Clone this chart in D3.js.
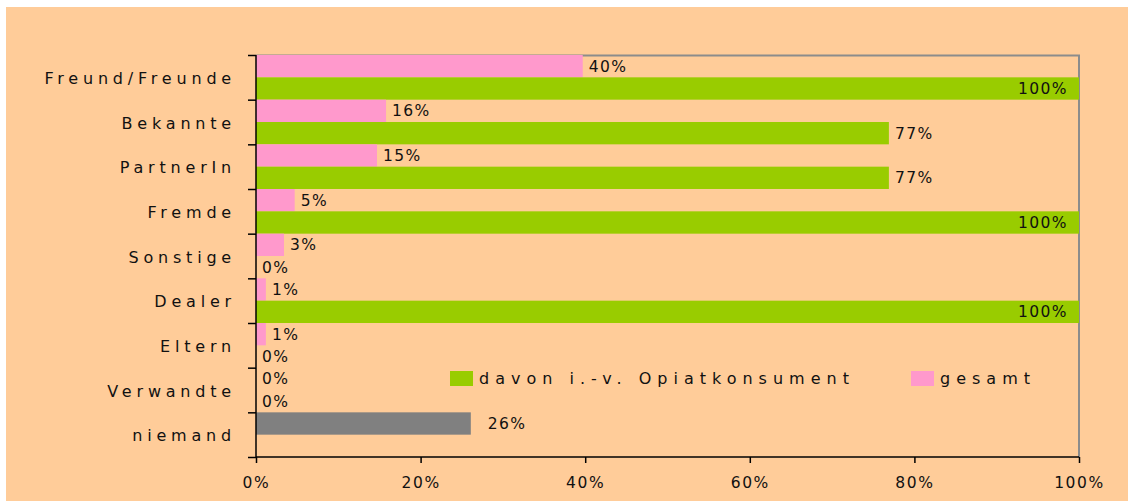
<!DOCTYPE html>
<html>
<head>
<meta charset="utf-8">
<script src="https://cdn.jsdelivr.net/npm/d3@7"></script>
<style>
  body { margin: 0; background: #ffffff; }
  svg text { font-family: "DejaVu Sans", Verdana, sans-serif; fill: #111111; }
</style>
</head>
<body>
<svg id="svg-main"></svg>
<script>
const CATEGORIES = ["Freund/Freunde", "Bekannte", "PartnerIn", "Fremde", "Sonstige", "Dealer", "Eltern", "Verwandte", "niemand"];
// "gesamt" share per category in % (niemand is drawn grey)
const GESAMT = [39.7, 15.8, 14.7, 4.7, 3.4, 1.2, 1.2, 0, 26.1];
// "davon i.-v. Opiatkonsument" share per category in % (null = no bar)
const OPIAT = [100, 76.9, 76.9, 100, 0, 100, 0, 0, null];
const X_TICKS = [0, 20, 40, 60, 80, 100];
const LEGEND_LABELS = ["davon i.-v. Opiatkonsument", "gesamt"];

const COLORS = {
    Background: "#ffcc99",
    Gesamt: "#ff99cc",
    Opiat: "#99cc00",
    Niemand: "#808080",
    Frame: "#8c8c8c"
};

var Dims = {
    MainSvg: { Width: 1128, Height: 502 },
    Margin: { Top: 55, Bottom: 45, Left: 256, Right: 49 },
    Chart: { Width: -1, Height: -1 }
};
Dims.Chart.Width = Dims.MainSvg.Width - Dims.Margin.Left - Dims.Margin.Right;
Dims.Chart.Height = Dims.MainSvg.Height - Dims.Margin.Top - Dims.Margin.Bottom;

var pct = d3.format(".0f");

var svg = d3.select("svg#svg-main")
    .attr("width", Dims.MainSvg.Width)
    .attr("height", Dims.MainSvg.Height);

// peach panel
svg.append("rect")
    .attr("x", 6).attr("y", 7)
    .attr("width", Dims.MainSvg.Width - 6)
    .attr("height", Dims.MainSvg.Height - 8)
    .attr("fill", COLORS.Background);

var chart = svg.append("g")
    .attr("transform", `translate(${Dims.Margin.Left},${Dims.Margin.Top})`);

var x = d3.scaleLinear().domain([0, 100]).range([0, Dims.Chart.Width]);
var y = d3.scaleBand().domain(CATEGORIES).range([0, Dims.Chart.Height]).padding(0);
var ySub = d3.scaleBand().domain(["gesamt", "opiat"]).range([0, y.bandwidth()]).padding(0);

// frame: top and right in grey
chart.append("path")
    .attr("d", `M0,0.5H${Dims.Chart.Width}V${Dims.Chart.Height}`)
    .attr("fill", "none")
    .attr("stroke", COLORS.Frame)
    .attr("stroke-width", 2);

var rows = CATEGORIES.map(function (c, i) {
    return [
        { cat: c, key: "gesamt", value: GESAMT[i] },
        { cat: c, key: "opiat", value: OPIAT[i] }
    ];
}).flat().filter(d => d.value !== null);

function barColor(d) {
    if (d.key === "opiat") return COLORS.Opiat;
    return d.cat === "niemand" ? COLORS.Niemand : COLORS.Gesamt;
}

chart.selectAll("rect.bar")
    .data(rows)
    .enter()
    .append("rect")
    .attr("class", "bar")
    .attr("x", x(0))
    .attr("y", d => y(d.cat) + ySub(d.key))
    .attr("width", d => x(d.value) - x(0))
    .attr("height", ySub.bandwidth())
    .attr("fill", barColor);

// value labels
chart.selectAll("text.val")
    .data(rows)
    .enter()
    .append("text")
    .attr("class", "val")
    .style("font-size", "15.5px")
    .style("letter-spacing", "1.4px")
    .attr("text-anchor", d => d.value >= 100 ? "end" : "start")
    .attr("x", function (d) {
        if (d.value >= 100) return x(d.value) - 11;
        return x(d.value) + (d.cat === "niemand" ? 17 : 6);
    })
    .attr("y", d => y(d.cat) + ySub(d.key) + ySub.bandwidth() / 2 + 5.5)
    .text(d => pct(d.value) + "%");

// y axis with ticks on band boundaries
var yTicks = d3.scaleLinear().domain([0, CATEGORIES.length]).range([0, Dims.Chart.Height]);
chart.append("g")
    .attr("class", "y-axis")
    .call(d3.axisLeft(yTicks).ticks(CATEGORIES.length).tickSize(8).tickFormat(""))
    .call(g => g.select(".domain").attr("stroke", "#000").attr("stroke-width", 1.5).attr("d", `M0,0V${Dims.Chart.Height}`))
    .call(g => g.selectAll(".tick line").attr("stroke", "#000").attr("stroke-width", 1.5));

chart.selectAll("text.cat")
    .data(CATEGORIES)
    .enter()
    .append("text")
    .attr("class", "cat")
    .style("font-size", "16px")
    .style("letter-spacing", "4.8px")
    .attr("text-anchor", "end")
    .attr("x", -20)
    .attr("y", d => y(d) + y.bandwidth() / 2 + 6.5)
    .text(d => d);

// x axis
chart.append("g")
    .attr("class", "x-axis")
    .attr("transform", `translate(0,${Dims.Chart.Height})`)
    .call(d3.axisBottom(x).tickValues(X_TICKS).tickSize(6).tickPadding(14).tickFormat(d => d + "%"))
    .call(g => g.select(".domain").attr("stroke", "#000").attr("stroke-width", 1.5).attr("d", `M0,0H${Dims.Chart.Width}`))
    .call(g => g.selectAll(".tick line").attr("stroke", "#000").attr("stroke-width", 1.5))
    .call(g => g.selectAll(".tick text")
        .attr("fill", "#111111")
        .style("font-size", "15.5px")
        .style("letter-spacing", "1.6px"));

// legend
var legendItems = [
    { label: LEGEND_LABELS[0], color: COLORS.Opiat, x: 450 },
    { label: LEGEND_LABELS[1], color: COLORS.Gesamt, x: 911 }
];
var legend = svg.append("g").attr("class", "legend");
var li = legend.selectAll("g")
    .data(legendItems)
    .enter()
    .append("g")
    .attr("transform", d => `translate(${d.x},371)`);
li.append("rect")
    .attr("width", 23).attr("height", 15)
    .attr("fill", d => d.color);
li.append("text")
    .attr("x", 29)
    .attr("y", 13)
    .style("font-size", "16px")
    .style("letter-spacing", "6px")
    .text(d => d.label);
</script>
</body>
</html>
